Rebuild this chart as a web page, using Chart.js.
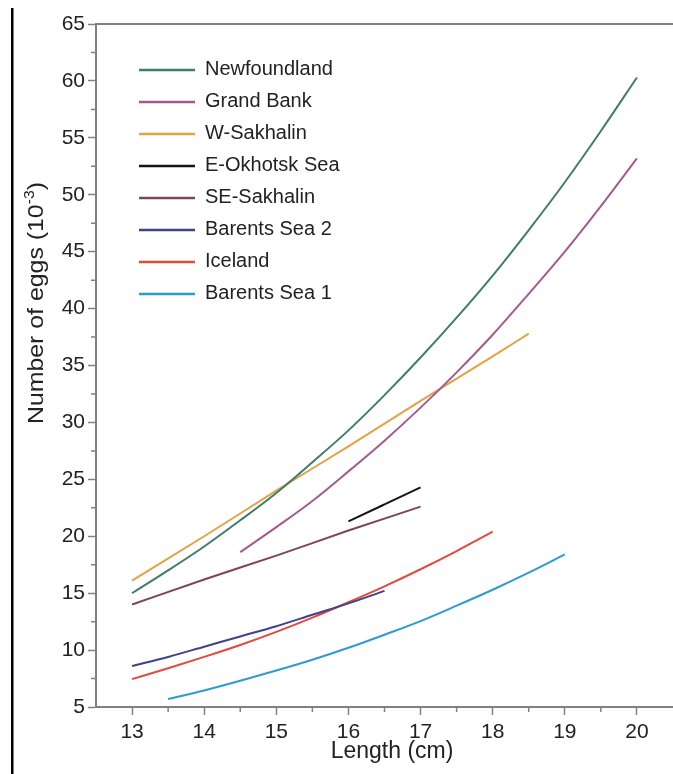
<!DOCTYPE html>
<html>
<head>
<meta charset="utf-8">
<script src="https://cdn.jsdelivr.net/npm/chart.js@4.4.1/dist/chart.umd.min.js"></script>
<style>
  html, body { margin: 0; padding: 0; background: #ffffff; }
</style>
</head>
<body>
<canvas id="eggChart" width="673" height="774"></canvas>
<script>
// values (length in cm, eggs in thousands)
const newfoundlandLength = [13, 13.5, 14, 14.5, 15, 15.5, 16, 16.5, 17, 17.5, 18, 18.5, 19, 19.5, 20];
const newfoundlandEggs = [15.0, 17.0, 19.1, 21.4, 23.8, 26.5, 29.3, 32.4, 35.7, 39.2, 42.9, 46.9, 51.1, 55.6, 60.3];

const grandBankLength = [14.5, 15, 15.5, 16, 16.5, 17, 17.5, 18, 18.5, 19, 19.5, 20];
const grandBankEggs = [18.6, 20.8, 23.1, 25.7, 28.4, 31.3, 34.4, 37.7, 41.3, 45.0, 49.0, 53.2];

const wSakhalinLength = [13, 14, 15, 16, 17, 18, 18.5];
const wSakhalinEggs = [16.1, 20.0, 24.0, 27.9, 31.9, 35.8, 37.8];

const eOkhotskLength = [16, 16.5, 17];
const eOkhotskEggs = [21.3, 22.8, 24.3];

const seSakhalinLength = [13, 14, 15, 16, 17];
const seSakhalinEggs = [14.0, 16.2, 18.3, 20.5, 22.6];

const barents2Length = [13, 13.5, 14, 14.5, 15, 15.5, 16, 16.5];
const barents2Eggs = [8.6, 9.4, 10.3, 11.2, 12.1, 13.1, 14.1, 15.2];

const icelandLength = [13, 13.5, 14, 14.5, 15, 15.5, 16, 16.5, 17, 17.5, 18];
const icelandEggs = [7.45, 8.4, 9.4, 10.45, 11.6, 12.85, 14.2, 15.6, 17.1, 18.7, 20.4];

const barents1Length = [13.5, 14, 14.5, 15, 15.5, 16, 16.5, 17, 17.5, 18, 18.5, 19];
const barents1Eggs = [5.7, 6.45, 7.3, 8.2, 9.15, 10.2, 11.35, 12.55, 13.9, 15.3, 16.8, 18.4];

const xTicks = [13, 14, 15, 16, 17, 18, 19, 20];
const xMinorTicks = [13.5, 14.5, 15.5, 16.5, 17.5, 18.5, 19.5];
const yMinorTicks = [7.5, 12.5, 17.5, 22.5, 27.5, 32.5, 37.5, 42.5, 47.5, 52.5, 57.5, 62.5];

const FONT = '"Liberation Sans", Arial, Helvetica, sans-serif';
const AXIS_GREY = '#808080';
const TEXT_COLOR = '#222222';

function toPoints(xs, ys) {
    return xs.map((x, i) => ({ x, y: ys[i] }));
}

function series(label, color, xs, ys) {
    return {
        label,
        data: toPoints(xs, ys),
        borderColor: color,
        backgroundColor: color,
        borderWidth: 2,
        pointRadius: 0,
        showLine: true,
        fill: false,
        cubicInterpolationMode: 'monotone'
    };
}

const datasets = [
    series('Newfoundland', '#3f7d6b', newfoundlandLength, newfoundlandEggs),
    series('Grand Bank', '#a45a8f', grandBankLength, grandBankEggs),
    series('W-Sakhalin', '#e3a243', wSakhalinLength, wSakhalinEggs),
    series('E-Okhotsk Sea', '#151515', eOkhotskLength, eOkhotskEggs),
    series('SE-Sakhalin', '#7c4652', seSakhalinLength, seSakhalinEggs),
    series('Barents Sea 2', '#3f418a', barents2Length, barents2Eggs),
    series('Iceland', '#e24a3b', icelandLength, icelandEggs),
    series('Barents Sea 1', '#2d9bd3', barents1Length, barents1Eggs)
];

// frame line, minor ticks, in-plot legend and axis titles
const decorations = {
    id: 'decorations',
    afterDraw(chart) {
        const ctx = chart.ctx;
        const area = chart.chartArea;
        const xs = chart.scales.x;
        const ys = chart.scales.y;
        ctx.save();

        // black rule at the left of the page
        ctx.fillStyle = '#000000';
        ctx.fillRect(11, 8, 2.5, chart.height - 8);

        // top frame line
        ctx.strokeStyle = AXIS_GREY;
        ctx.lineWidth = 2;
        ctx.beginPath();
        ctx.moveTo(area.left, area.top);
        ctx.lineTo(chart.width, area.top);
        ctx.stroke();

        // minor ticks
        ctx.lineWidth = 1.5;
        ctx.beginPath();
        xMinorTicks.forEach((v) => {
            const px = xs.getPixelForValue(v);
            ctx.moveTo(px, area.bottom);
            ctx.lineTo(px, area.bottom + 5);
        });
        yMinorTicks.forEach((v) => {
            const py = ys.getPixelForValue(v);
            ctx.moveTo(area.left, py);
            ctx.lineTo(area.left - 5, py);
        });
        ctx.stroke();

        // legend
        ctx.font = '20px ' + FONT;
        ctx.textBaseline = 'middle';
        ctx.textAlign = 'left';
        chart.data.datasets.forEach((ds, i) => {
            const y = 70 + i * 32;
            ctx.strokeStyle = ds.borderColor;
            ctx.lineWidth = 2.5;
            ctx.beginPath();
            ctx.moveTo(139, y);
            ctx.lineTo(195, y);
            ctx.stroke();
            ctx.fillStyle = TEXT_COLOR;
            ctx.fillText(ds.label, 205, y - 1);
        });

        // x axis title
        ctx.fillStyle = TEXT_COLOR;
        ctx.font = '23px ' + FONT;
        ctx.textAlign = 'center';
        ctx.fillText('Length (cm)', 392, 752);

        // y axis title with superscript exponent
        const main = 'Number of eggs (10';
        const sup = '-3';
        const close = ')';
        ctx.font = '22px ' + FONT;
        const wMain = ctx.measureText(main).width;
        const wClose = ctx.measureText(close).width;
        ctx.font = '14px ' + FONT;
        const wSup = ctx.measureText(sup).width;
        const total = wMain + wSup + wClose;

        ctx.translate(37, 303);
        ctx.rotate(-Math.PI / 2);
        ctx.scale(1.13, 1);
        ctx.textAlign = 'left';
        let x0 = -total / 2;
        ctx.font = '22px ' + FONT;
        ctx.fillText(main, x0, 0);
        x0 += wMain;
        ctx.font = '14px ' + FONT;
        ctx.fillText(sup, x0, -7);
        x0 += wSup;
        ctx.font = '22px ' + FONT;
        ctx.fillText(close, x0, 0);
        ctx.restore();
    }
};

new Chart(document.getElementById('eggChart'), {
    type: 'scatter',
    data: { datasets },
    options: {
        responsive: false,
        devicePixelRatio: 1,
        animation: false,
        layout: { padding: { left: 0, right: 0, top: 24, bottom: 0 } },
        plugins: {
            legend: { display: false },
            tooltip: { enabled: false }
        },
        scales: {
            x: {
                type: 'linear',
                min: 12.5,
                max: 20.5,
                afterBuildTicks: (scale) => {
                    scale.ticks = xTicks.map((v) => ({ value: v }));
                },
                afterFit: (scale) => {
                    scale.height = 67;
                },
                ticks: {
                    font: { family: FONT, size: 21 },
                    color: TEXT_COLOR,
                    padding: 5,
                    maxRotation: 0
                },
                grid: {
                    drawOnChartArea: false,
                    tickLength: 8,
                    tickWidth: 1.5,
                    color: AXIS_GREY
                },
                border: { color: AXIS_GREY, width: 2 }
            },
            y: {
                min: 5,
                max: 65,
                afterFit: (scale) => {
                    scale.width = 96;
                },
                ticks: {
                    stepSize: 5,
                    font: { family: FONT, size: 21 },
                    color: TEXT_COLOR,
                    padding: 3
                },
                grid: {
                    drawOnChartArea: false,
                    tickLength: 8,
                    tickWidth: 1.5,
                    color: AXIS_GREY
                },
                border: { color: AXIS_GREY, width: 2 }
            }
        }
    },
    plugins: [decorations]
});
</script>
</body>
</html>
